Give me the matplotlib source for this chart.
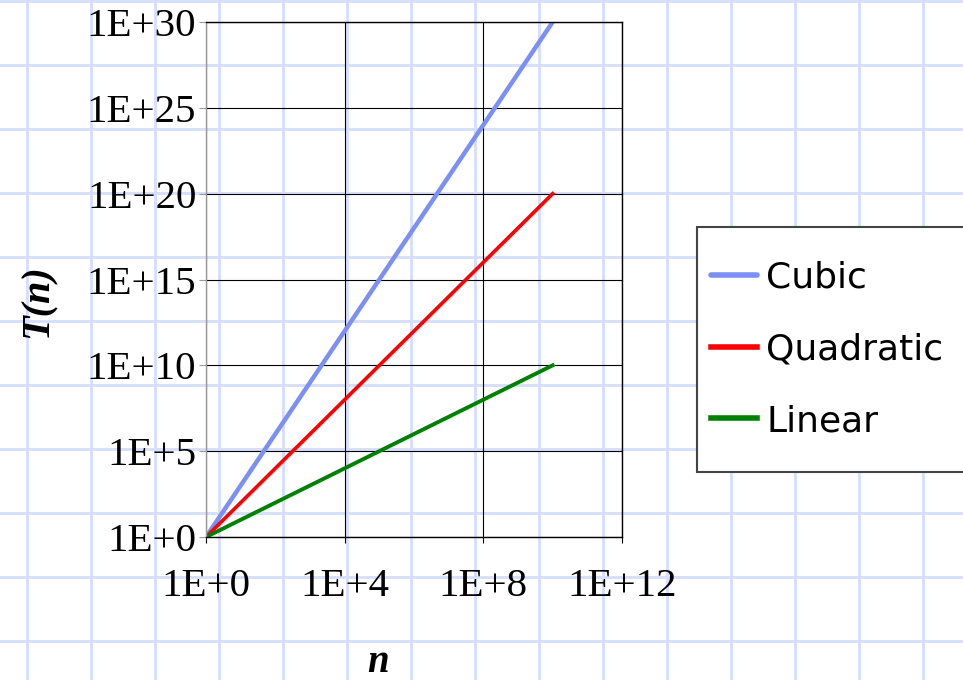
import math
import matplotlib.pyplot as plt
from matplotlib.patches import Rectangle
from matplotlib.ticker import FixedLocator, FuncFormatter, NullLocator

# Growth of running time for different orders of complexity
n_values = [1e0, 1e1, 1e2, 1e3, 1e4, 1e5, 1e6, 1e7, 1e8, 1e9, 1e10]
cubic = [1e0, 1e3, 1e6, 1e9, 1e12, 1e15, 1e18, 1e21, 1e24, 1e27, 1e30]
quadratic = [1e0, 1e2, 1e4, 1e6, 1e8, 1e10, 1e12, 1e14, 1e16, 1e18, 1e20]
linear = [1e0, 1e1, 1e2, 1e3, 1e4, 1e5, 1e6, 1e7, 1e8, 1e9, 1e10]

x_ticks = [1e0, 1e4, 1e8, 1e12]
y_ticks = [1e0, 1e5, 1e10, 1e15, 1e20, 1e25, 1e30]

W, H = 963, 680
fig = plt.figure(figsize=(W / 100, H / 100), dpi=100)
fig.patch.set_facecolor('white')

# graph paper behind everything
bg = fig.add_axes([0, 0, 1, 1], zorder=-10)
bg.set_xlim(0, W)
bg.set_ylim(H, 0)
bg.set_xticks(range(27, W, 64))
bg.set_yticks(range(1, H, 64))
bg.grid(True, color='#d5defa', lw=2)
bg.tick_params(length=0, labelbottom=False, labelleft=False)
for s in bg.spines.values():
    s.set_visible(False)

# legend box, runs off the right edge
bg.add_patch(Rectangle((697, 227), 300, 245, facecolor='white',
                       edgecolor='#444444', lw=1.5, zorder=5))

ax = fig.add_axes([206 / W, 1 - 537 / H, 416 / W, 515 / H])
ax.set_facecolor('none')

ax.plot(n_values, cubic, color='#7b8ff4', lw=3.2, label='Cubic', solid_capstyle='round')
ax.plot(n_values, quadratic, color='#ff0000', lw=2.6, label='Quadratic')
ax.plot(n_values, linear, color='#008000', lw=2.8, label='Linear')

ax.set_xscale('log')
ax.set_yscale('log')
ax.set_xlim(1e0, 1e12)
ax.set_ylim(1e0, 1e30)
ax.xaxis.set_major_locator(FixedLocator(x_ticks))
ax.yaxis.set_major_locator(FixedLocator(y_ticks))
ax.xaxis.set_minor_locator(NullLocator())
ax.yaxis.set_minor_locator(NullLocator())
fmt = FuncFormatter(lambda v, p: '1E+%d' % round(math.log10(v)))
ax.xaxis.set_major_formatter(fmt)
ax.yaxis.set_major_formatter(fmt)

ax.grid(True, color='black', lw=0.8)
ax.set_axisbelow(True)
for side in ['top', 'right', 'bottom']:
    ax.spines[side].set_color('black')
    ax.spines[side].set_linewidth(1.0)
ax.spines['left'].set_color('#999999')
ax.spines['left'].set_linewidth(1.0)

ax.tick_params(axis='y', length=5, color='#999999', pad=2)
ax.tick_params(axis='x', length=4, color='black', pad=18)
for lbl in ax.get_xticklabels() + ax.get_yticklabels():
    lbl.set_fontfamily('Liberation Serif')
    lbl.set_fontsize(29.5)

fig.text(38 / W, 1 - 301 / H, 'T(n)', rotation=90, ha='center', va='center',
         family='Liberation Serif', style='italic', weight='bold', fontsize=29)
fig.text(378 / W, 1 - 663 / H, 'n', ha='center', va='center',
         family='Liberation Serif', style='italic', weight='bold', fontsize=28)

leg = fig.legend(loc='upper left', bbox_to_anchor=(711 / W, 1 - 261 / H),
                 prop={'family': 'DejaVu Sans', 'size': 26},
                 handlelength=1.28, handletextpad=0.25, labelspacing=1.04,
                 borderpad=0, borderaxespad=0, frameon=False)
leg.set_zorder(6)
for line in leg.get_lines():
    line.set_linewidth(4)

fig.savefig('out.png', dpi=100)
